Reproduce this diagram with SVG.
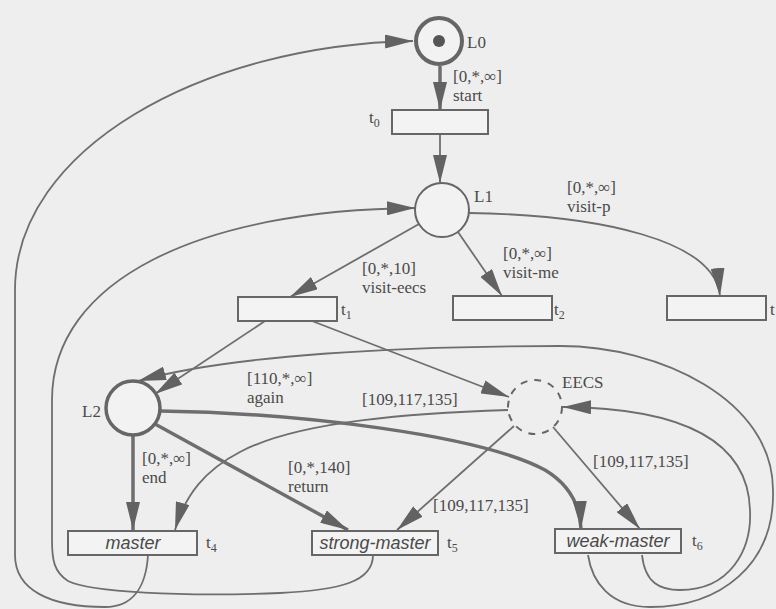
<svg xmlns="http://www.w3.org/2000/svg" width="776" height="609" viewBox="0 0 776 609">
<defs>
<style>
.bg{fill:#eeeeee}
.lbl{font-family:"Liberation Serif","Times New Roman",serif;font-size:17px;fill:#4a4a4a}
.sub{font-size:12px}
.tname{font-family:"Liberation Sans",Arial,sans-serif;font-style:italic;font-size:18px;fill:#4a4a4a;text-anchor:middle}
.place{fill:#f2f2f2;stroke:#666}
.trans{fill:#f3f3f3;stroke:#666;stroke-width:2}
.arc{fill:none;stroke:#6e6e6e;stroke-width:1.8}
.thick{stroke-width:3.5}
</style>
<marker id="ah" viewBox="0 0 28 14" refX="28" refY="7" markerWidth="28" markerHeight="14" markerUnits="userSpaceOnUse" orient="auto">
<path d="M0,0 L28,7 L0,14 z" fill="#626262"/>
</marker>
</defs>
<rect class="bg" x="0" y="0" width="776" height="609"/>

<g id="connectors">
<path class="arc thick" d="M440 66 L440 110" marker-end="url(#ah)"/>
<path class="arc" d="M440 134 L440 183" marker-end="url(#ah)"/>
<path class="arc" d="M419 224 L290 297" marker-end="url(#ah)"/>
<path class="arc" d="M458 232 L502 296" marker-end="url(#ah)"/>
<path class="arc" d="M469 213 C600 215 715 240 720 296" marker-end="url(#ah)"/>
<path class="arc" d="M265 321 L155 394" marker-end="url(#ah)"/>
<path class="arc" d="M312 321 L509 397" marker-end="url(#ah)"/>
<path class="arc" d="M148 555 C146 588 132 607 105 607 C50 607 15 590 15 555 L15 290 C15 150 200 45 413 41" marker-end="url(#ah)"/>
<path class="arc" d="M373 555 C373 582 340 590 280 593 C180 597 90 592 68 581 C54 572 52 560 52 540 L52 400 C52 280 200 210 415 208" marker-end="url(#ah)"/>
<path class="arc" d="M588 555 C592 582 610 607 650 607 C720 607 775 565 773 490 C773 400 660 346 560 346 C400 346 230 355 138 381" marker-end="url(#ah)"/>
<path class="arc" d="M642 555 C645 583 660 590 680 590 C730 590 752 550 750 510 C748 440 680 408 563 407" marker-end="url(#ah)"/>
<path class="arc" d="M508 410 C420 413 300 420 240 452 C205 470 185 495 175 530" marker-end="url(#ah)"/>
<path class="arc" d="M514 426 L397 530" marker-end="url(#ah)"/>
<path class="arc" d="M553 427 L640 529" marker-end="url(#ah)"/>
<path class="arc thick" d="M133 436 L133 530" marker-end="url(#ah)"/>
<path class="arc thick" d="M155 424 L348 530" marker-end="url(#ah)"/>
<path class="arc thick" d="M160 411 C300 413 480 435 545 470 C570 485 580 505 581 529" marker-end="url(#ah)"/>
</g>

<g id="arc-labels">
<text class="lbl" x="453" y="82">[0,*,∞]</text>
<text class="lbl" x="453" y="101">start</text>
<text class="lbl" x="567" y="193">[0,*,∞]</text>
<text class="lbl" x="567" y="212">visit-p</text>
<text class="lbl" x="362" y="274">[0,*,10]</text>
<text class="lbl" x="362" y="293">visit-eecs</text>
<text class="lbl" x="503" y="259">[0,*,∞]</text>
<text class="lbl" x="503" y="278">visit-me</text>
<text class="lbl" x="247" y="384">[110,*,∞]</text>
<text class="lbl" x="247" y="403">again</text>
<text class="lbl" x="362" y="405">[109,117,135]</text>
<text class="lbl" x="142" y="464">[0,*,∞]</text>
<text class="lbl" x="142" y="483">end</text>
<text class="lbl" x="288" y="473">[0,*,140]</text>
<text class="lbl" x="288" y="492">return</text>
<text class="lbl" x="433" y="511">[109,117,135]</text>
<text class="lbl" x="593" y="467">[109,117,135]</text>
</g>

<g id="L0">
<circle class="place" cx="439" cy="41" r="23" stroke-width="4"/>
<circle cx="439" cy="41" r="6" fill="#555"/>
<text class="lbl" x="467" y="48">L0</text>
</g>
<g id="L1">
<circle class="place" cx="442" cy="210" r="27" stroke-width="2"/>
<text class="lbl" x="474" y="202">L1</text>
</g>
<g id="L2">
<circle class="place" cx="133" cy="408" r="27" stroke-width="3.5"/>
<text class="lbl" x="82" y="417">L2</text>
</g>
<g id="EECS">
<circle cx="535" cy="407" r="27" fill="none" stroke="#666" stroke-width="2" stroke-dasharray="7 7"/>
<text class="lbl" x="562" y="388">EECS</text>
</g>
<g id="t0">
<rect class="trans" x="392" y="110" width="96" height="24"/>
<text class="lbl" x="369" y="123">t<tspan class="sub" dy="4">0</tspan></text>
</g>
<g id="t1">
<rect class="trans" x="238" y="297" width="99" height="24"/>
<text class="lbl" x="341" y="315">t<tspan class="sub" dy="4">1</tspan></text>
</g>
<g id="t2">
<rect class="trans" x="453" y="296" width="99" height="24"/>
<text class="lbl" x="554" y="315">t<tspan class="sub" dy="4">2</tspan></text>
</g>
<g id="t3">
<rect class="trans" x="667" y="296" width="99" height="24"/>
<text class="lbl" x="770" y="315">t</text>
</g>
<g id="t4">
<rect class="trans" x="68" y="531" width="129" height="24"/>
<text class="tname" x="133" y="549">master</text>
<text class="lbl" x="206" y="548">t<tspan class="sub" dy="4">4</tspan></text>
</g>
<g id="t5">
<rect class="trans" x="312" y="531" width="126" height="24"/>
<text class="tname" x="375" y="549">strong-master</text>
<text class="lbl" x="447" y="548">t<tspan class="sub" dy="4">5</tspan></text>
</g>
<g id="t6">
<rect class="trans" x="555" y="529" width="126" height="24"/>
<text class="tname" x="618" y="547">weak-master</text>
<text class="lbl" x="692" y="546">t<tspan class="sub" dy="4">6</tspan></text>
</g>
</svg>
